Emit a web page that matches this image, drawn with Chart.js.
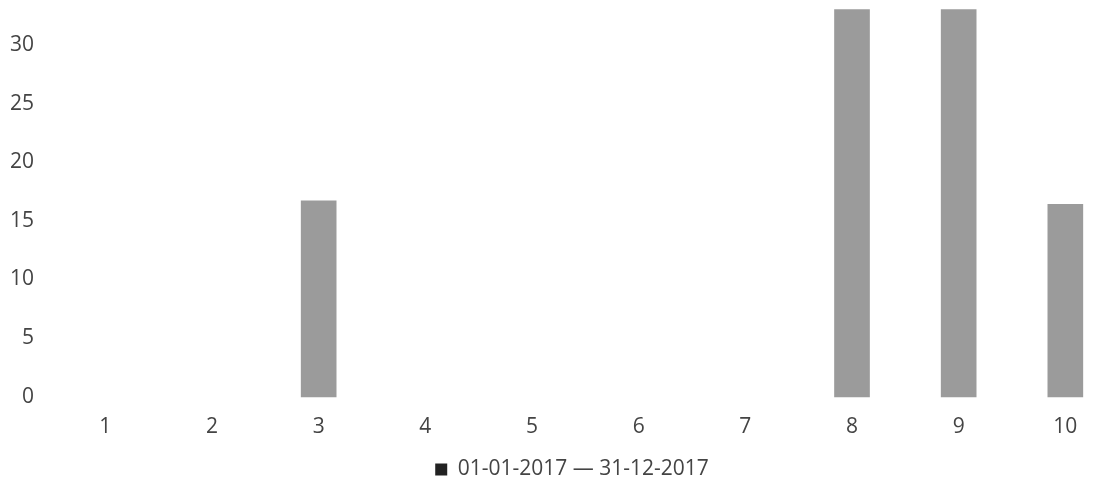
<!DOCTYPE html>
<html lang="en">
<head>
  <meta charset="UTF-8">
  <title>Bar chart 2017</title>
  <script src="https://cdn.jsdelivr.net/npm/chart.js"></script>
  <style>
    html, body {
      margin: 0;
      padding: 0;
      background: #fff;
      overflow: hidden;
    }
    .wrap {
      width: 1108px;
      height: 491px;
    }
  </style>
</head>
<body>
  <div class="wrap">
    <canvas id="chart"></canvas>
  </div>

  <script>
    const categories = [1, 2, 3, 4, 5, 6, 7, 8, 9, 10];
    const values = [0, 0, 16.7, 0, 0, 0, 0, 33.0, 33.0, 16.4];
    const yTicks = [0, 5, 10, 15, 20, 25, 30];
    const seriesLabel = '01-01-2017 \u2014 31-12-2017';

    const font = { family: 'Open Sans', size: 21 };
    const textColor = '#444';

    // the legend sits a little right of centre in the original
    const legendShift = {
      id: 'legendShift',
      afterLayout(chart) {
        chart.legend.left += 18;
        chart.legend.right += 18;
      }
    };

    const ctx = document.getElementById('chart').getContext('2d');
    new Chart(ctx, {
      type: 'bar',
      data: {
        datasets: [{
          label: seriesLabel,
          // empty categories draw nothing
          data: categories.map((c, i) => ({ x: c, y: values[i] || null })),
          backgroundColor: '#9b9b9b',
          borderWidth: 0,
          barThickness: 35,
          clip: false
        }]
      },
      options: {
        responsive: true,
        maintainAspectRatio: false,
        animation: false,
        layout: { padding: { top: 0, right: 0, bottom: 1, left: 0 } },
        plugins: {
          legend: {
            position: 'bottom',
            labels: {
              font: font,
              color: textColor,
              boxWidth: 12,
              boxHeight: 12,
              padding: 9,
              generateLabels: chart => [{
                text: seriesLabel,
                fillStyle: '#222',
                strokeStyle: '#222',
                lineWidth: 0,
                fontColor: textColor,
                datasetIndex: 0
              }]
            }
          },
          tooltip: { enabled: false }
        },
        scales: {
          x: {
            type: 'linear',
            offset: false,
            min: 0.5,
            max: 10.4,
            grid: { display: false },
            border: { display: false },
            afterBuildTicks: axis => {
              axis.ticks = categories.map(v => ({ value: v }));
            },
            ticks: { font: font, color: textColor, padding: 10 }
          },
          y: {
            min: 0,
            max: 31.9,
            grid: { display: false },
            border: { display: false },
            afterBuildTicks: axis => {
              axis.ticks = yTicks.map(v => ({ value: v }));
            },
            ticks: { font: font, color: textColor, padding: 10 }
          }
        }
      },
      plugins: [legendShift]
    });
  </script>
</body>
</html>
